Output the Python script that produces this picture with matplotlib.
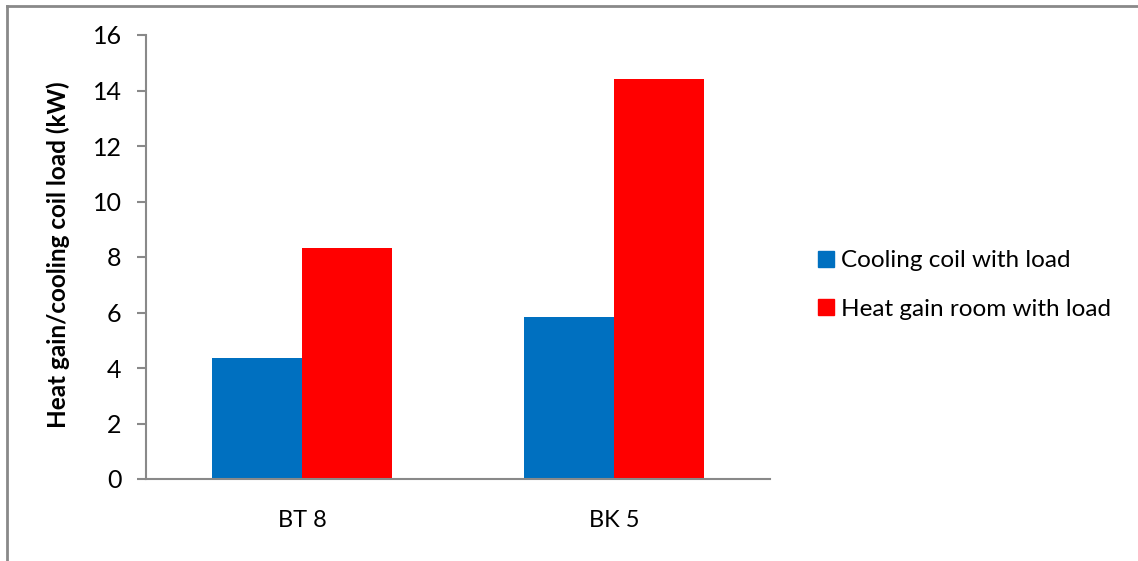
import matplotlib
matplotlib.use("Agg")
import matplotlib.pyplot as plt
import matplotlib.patches as mpatches
from matplotlib.lines import Line2D
import numpy as np

categories = ["BT 8", "BK 5"]
cooling_coil = [4.37, 5.82]
heat_gain = [8.34, 14.41]
series_names = ["Cooling coil with load", "Heat gain room with load"]
colors = ["#0070C0", "#FF0000"]
yticks = [0, 2, 4, 6, 8, 10, 12, 14, 16]

plt.rcParams['font.family'] = ['Lato', 'DejaVu Sans']

fig = plt.figure(figsize=(11.38, 5.61), dpi=100)
ax = fig.add_axes([146/1138, 1-479/561, (770-146)/1138, (479-35)/561])

x = np.arange(len(categories))
w = 0.287
ax.bar(x - w/2, cooling_coil, width=w, color=colors[0], label=series_names[0])
ax.bar(x + w/2, heat_gain, width=w, color=colors[1], label=series_names[1])

ax.set_xlim(-0.5, 1.5)
ax.set_ylim(0, 16)
ax.set_yticks(yticks)
ax.set_xticks(x)
ax.set_xticklabels(categories, fontsize=17)
ax.tick_params(axis='x', length=0, pad=22)
ax.tick_params(axis='y', length=6.5, width=1.5, color='#898989', labelsize=18, pad=11)
for s in ['top', 'right']:
    ax.spines[s].set_visible(False)
for s in ['left', 'bottom']:
    ax.spines[s].set_color('#898989')
    ax.spines[s].set_linewidth(1.5)
ax.set_ylabel("Heat gain/cooling coil load (kW)", fontsize=17.5, fontweight='bold')
ax.yaxis.set_label_coords(-0.121, 0.505)

handles = [mpatches.Patch(color=c) for c in colors]
fig.legend(handles, series_names, loc='center left', bbox_to_anchor=(796/1138, 1-285/561),
           frameon=False, fontsize=17.5, handlelength=0.65, handleheight=0.65,
           handletextpad=0.3, labelspacing=1.12)

# outer chart frame (top and left edges visible)
fig.add_artist(Line2D([7/1138, 1], [1-5.5/561, 1-5.5/561], color='#898989', lw=2, transform=fig.transFigure))
fig.add_artist(Line2D([7/1138, 7/1138], [0, 1-5.5/561], color='#898989', lw=2, transform=fig.transFigure))

fig.savefig("out.png", dpi=100)
